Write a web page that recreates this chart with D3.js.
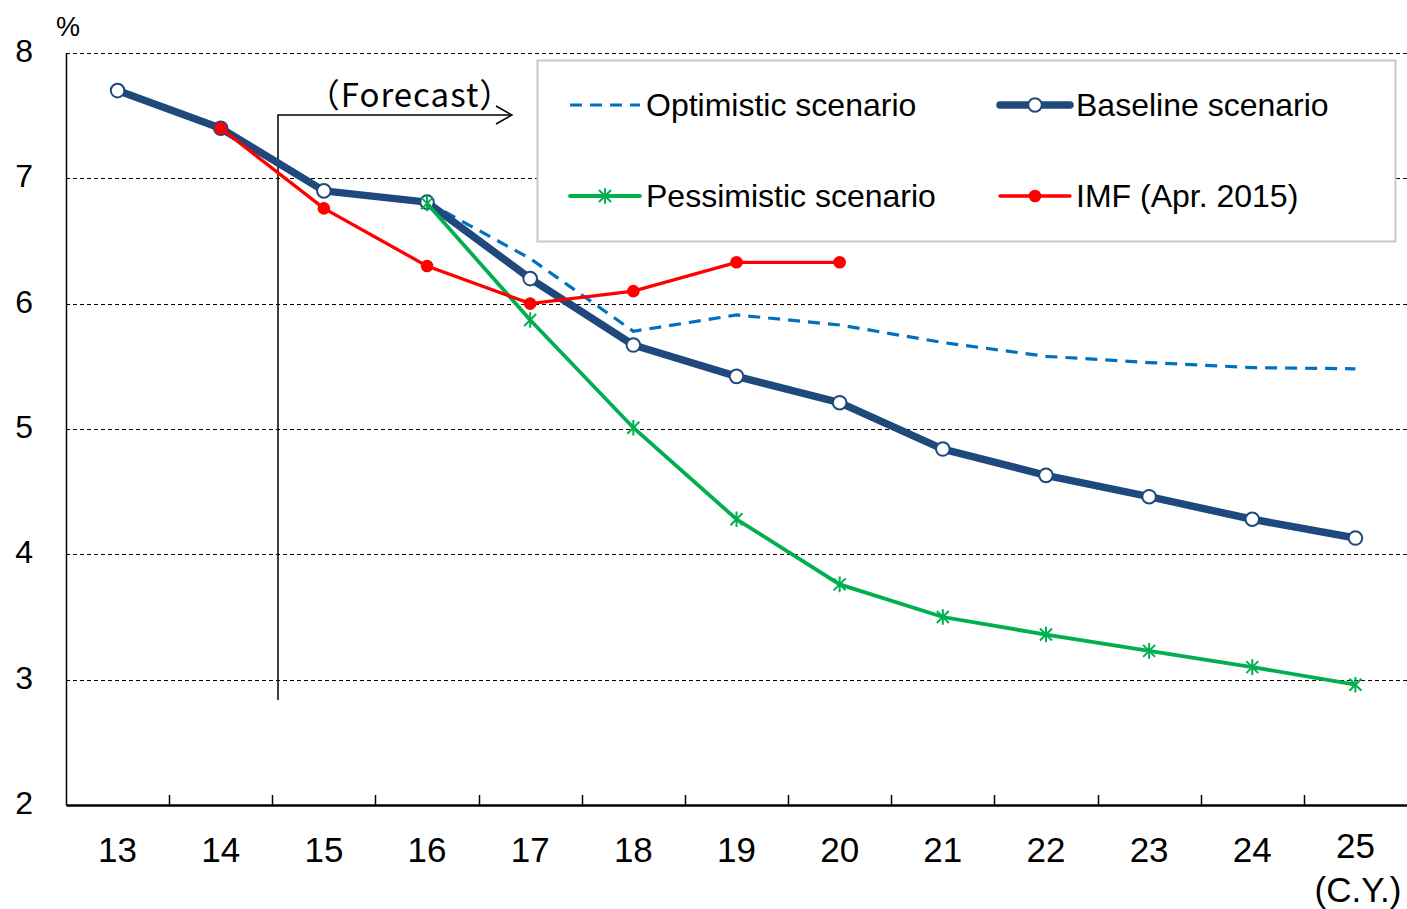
<!DOCTYPE html>
<html>
<head>
<meta charset="utf-8">
<script src="https://cdn.jsdelivr.net/npm/d3@7/dist/d3.min.js"></script>
<style>
  html, body { margin: 0; padding: 0; background: #fff; }
  svg { display: block; }
  text { font-family: "Liberation Sans", Arial, sans-serif; fill: #000; }
</style>
</head>
<body>
<svg id="chart" width="1407" height="909"></svg>
<script>
// Calendar years (last two digits)
const years = ["13","14","15","16","17","18","19","20","21","22","23","24","25"];
// Growth rate, %
const baseline    = [7.70, 7.40, 6.90, 6.81, 6.20, 5.67, 5.42, 5.21, 4.84, 4.63, 4.46, 4.28, 4.13];
const optimistic  = [null, null, null, 6.81, 6.36, 5.78, 5.91, 5.83, 5.69, 5.58, 5.53, 5.49, 5.48];
const pessimistic = [null, null, null, 6.80, 5.87, 5.01, 4.28, 3.76, 3.50, 3.36, 3.23, 3.10, 2.96];
const imf         = [null, 7.40, 6.76, 6.30, 6.00, 6.10, 6.33, 6.33, null, null, null, null, null];
const yTicks = [2, 3, 4, 5, 6, 7, 8];

const svg = d3.select("#chart");
const plotLeft = 66, plotRight = 1407, plotTop = 53, plotBottom = 805;

const x = d3.scaleBand().domain(years).range([plotLeft, plotRight]);
const y = d3.scaleLinear().domain([2, 8]).range([plotBottom, plotTop]);
const cx = d => x(d) + x.bandwidth() / 2;

// Gridlines
svg.append("g").selectAll("line").data(yTicks.filter(t => t > 2)).join("line")
  .attr("x1", plotLeft).attr("x2", plotRight)
  .attr("y1", d => Math.round(y(d)) + 0.5).attr("y2", d => Math.round(y(d)) + 0.5)
  .attr("stroke", "#000").attr("stroke-width", 1.2).attr("stroke-dasharray", "4,3");

// Y axis
const yAxis = svg.append("g").attr("transform", `translate(${plotLeft},0)`)
  .call(d3.axisLeft(y).tickValues(yTicks).tickFormat(d3.format("d")).tickSize(0).tickPadding(33));
yAxis.select(".domain").attr("stroke", "#000").attr("stroke-width", 1.5);
yAxis.selectAll("text").style("font-size", "32px").attr("dy", "0.27em")
  .style("font-family", "Liberation Sans, Arial, sans-serif");

// X axis
const xAxis = svg.append("g").attr("transform", `translate(0,${plotBottom})`)
  .call(d3.axisBottom(x).tickSize(0));
xAxis.select(".domain").attr("stroke", "#000").attr("stroke-width", 2.5);
xAxis.selectAll("text").style("font-size", "35px")
  .style("font-family", "Liberation Sans, Arial, sans-serif")
  .attr("dy", 0).attr("y", d => d === "25" ? 53 : 57);
// category boundary ticks
svg.append("g").selectAll("line").data(years.slice(1)).join("line")
  .attr("x1", d => Math.round(x(d)) + 0.5).attr("x2", d => Math.round(x(d)) + 0.5)
  .attr("y1", plotBottom - 10).attr("y2", plotBottom)
  .attr("stroke", "#000").attr("stroke-width", 1.5);

svg.append("text").attr("x", 1358).attr("y", 902).attr("text-anchor", "middle")
  .style("font-size", "35px").text("(C.Y.)");
svg.append("text").attr("x", 56).attr("y", 36)
  .style("font-size", "27px").text("%");

// Forecast marker
svg.append("path")
  .attr("d", `M278,700 V115 H510`)
  .attr("fill", "none").attr("stroke", "#000").attr("stroke-width", 1.5);
svg.append("path")
  .attr("d", `M496,106 L512,115 L496,124`)
  .attr("fill", "none").attr("stroke", "#000").attr("stroke-width", 1.5);
svg.append("text").attr("x", 410).attr("y", 107).attr("text-anchor", "middle")
  .style("font-family", "'Noto Sans CJK JP', sans-serif").style("font-size", "33px")
  .style("letter-spacing", "1px")
  .text("（Forecast）");

// Series
const line = vals => d3.line().defined(d => d.v != null)
  .x(d => cx(d.k)).y(d => y(d.v))(years.map((k, i) => ({k, v: vals[i]})));
const pts = vals => years.map((k, i) => ({k, v: vals[i]})).filter(d => d.v != null);

const cBase = "#1F497D", cOpt = "#0070C0", cPes = "#00B050", cImf = "#FF0000";

function star(g, px, py, s, color) {
  g.append("path")
    .attr("d", `M${px - s},${py - s}L${px + s},${py + s}M${px - s},${py + s}L${px + s},${py - s}M${px},${py - s * 1.3}L${px},${py + s * 1.3}`)
    .attr("stroke", color).attr("stroke-width", 2).attr("fill", "none");
}

// Optimistic
svg.append("path").attr("d", line(optimistic)).attr("fill", "none")
  .attr("stroke", cOpt).attr("stroke-width", 3.2).attr("stroke-dasharray", "12,8");

// Baseline
svg.append("path").attr("d", line(baseline)).attr("fill", "none")
  .attr("stroke", cBase).attr("stroke-width", 7.5).attr("stroke-linejoin", "round");
svg.append("g").selectAll("circle").data(pts(baseline)).join("circle")
  .attr("cx", d => cx(d.k)).attr("cy", d => y(d.v)).attr("r", 6.8)
  .attr("fill", "#fff").attr("stroke", cBase).attr("stroke-width", 2);

// Pessimistic
svg.append("path").attr("d", line(pessimistic)).attr("fill", "none")
  .attr("stroke", cPes).attr("stroke-width", 3.8);
const gp = svg.append("g");
pts(pessimistic).forEach(d => star(gp, cx(d.k), y(d.v), 6, cPes));

// IMF
svg.append("path").attr("d", line(imf)).attr("fill", "none")
  .attr("stroke", cImf).attr("stroke-width", 3.3);
svg.append("g").selectAll("circle").data(pts(imf)).join("circle")
  .attr("cx", d => cx(d.k)).attr("cy", d => y(d.v)).attr("r", 6.3)
  .attr("fill", cImf);

// Legend
const lg = svg.append("g");
lg.append("rect").attr("x", 537.5).attr("y", 60.5).attr("width", 858).attr("height", 181)
  .attr("fill", "#fff").attr("stroke", "#c8c8c8").attr("stroke-width", 2);

const items = [
  {name: "Optimistic scenario", x: 570, y: 105, kind: "opt"},
  {name: "Baseline scenario", x: 1000, y: 105, kind: "base"},
  {name: "Pessimistic scenario", x: 570, y: 196, kind: "pes"},
  {name: "IMF (Apr. 2015)", x: 1000, y: 196, kind: "imf"}
];
items.forEach(it => {
  const x0 = it.x, x1 = it.x + 70, mid = it.x + 35;
  if (it.kind === "opt") {
    lg.append("line").attr("x1", x0).attr("x2", x1).attr("y1", it.y).attr("y2", it.y)
      .attr("stroke", cOpt).attr("stroke-width", 3.2).attr("stroke-dasharray", "12,8");
  } else if (it.kind === "base") {
    lg.append("line").attr("x1", x0).attr("x2", x1).attr("y1", it.y).attr("y2", it.y)
      .attr("stroke", cBase).attr("stroke-width", 7.5).attr("stroke-linecap", "round");
    lg.append("circle").attr("cx", mid).attr("cy", it.y).attr("r", 6.8)
      .attr("fill", "#fff").attr("stroke", cBase).attr("stroke-width", 2);
  } else if (it.kind === "pes") {
    lg.append("line").attr("x1", x0).attr("x2", x1).attr("y1", it.y).attr("y2", it.y)
      .attr("stroke", cPes).attr("stroke-width", 3.8).attr("stroke-linecap", "round");
    star(lg, mid, it.y, 6, cPes);
  } else {
    lg.append("line").attr("x1", x0).attr("x2", x1).attr("y1", it.y).attr("y2", it.y)
      .attr("stroke", cImf).attr("stroke-width", 3.3).attr("stroke-linecap", "round");
    lg.append("circle").attr("cx", mid).attr("cy", it.y).attr("r", 6.3).attr("fill", cImf);
  }
  lg.append("text").attr("x", x1 + 6).attr("y", it.y).attr("dy", "0.35em")
    .style("font-size", "32px").text(it.name);
});
</script>
</body>
</html>
